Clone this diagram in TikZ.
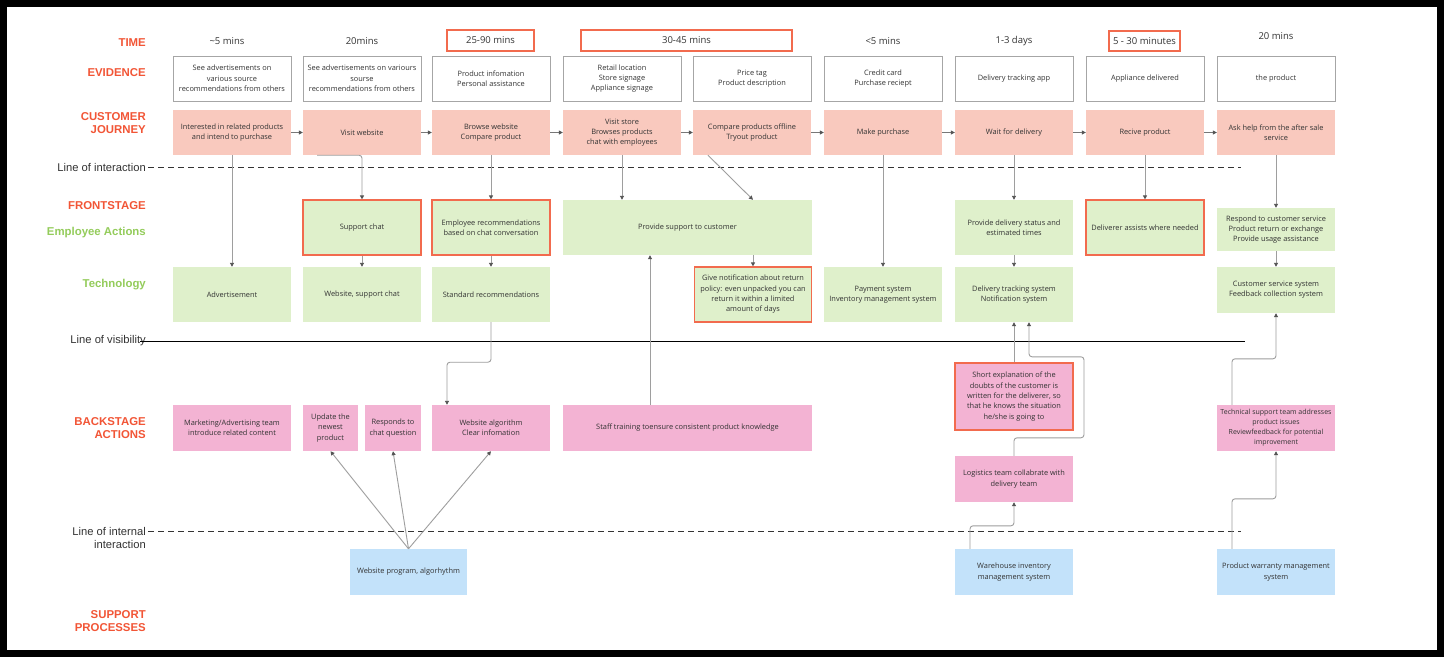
\documentclass[tikz,border=0pt]{standalone}
\usepackage{fontspec}
\setmainfont{Open Sans}
\newfontfamily\labfont{Liberation Sans}
\usetikzlibrary{arrows.meta,calc}
\definecolor{txt}{HTML}{333333}
\definecolor{evb}{HTML}{A6A6A6}
\definecolor{jfill}{HTML}{F9C9BE}
\definecolor{gfill}{HTML}{DFF0CB}
\definecolor{pfill}{HTML}{F3B3D3}
\definecolor{bfill}{HTML}{C3E2FA}
\definecolor{redc}{HTML}{F26B4E}
\definecolor{labred}{HTML}{F25536}
\definecolor{labgreen}{HTML}{94CC5B}
\definecolor{lineg}{HTML}{9E9E9E}
\definecolor{tipc}{HTML}{555555}
\tikzset{
  box/.style={minimum width=118pt, minimum height=45pt, inner sep=1pt, align=center,
    font=\fontsize{7.4}{10.3}\selectfont, text=txt},
  ev/.style={box, draw=evb, line width=1pt, fill=white},
  jr/.style={box, fill=jfill},
  gb/.style={box, fill=gfill, minimum height=55pt},
  pb/.style={box, fill=pfill, minimum height=46pt},
  bb/.style={box, fill=bfill, minimum height=46pt},
  redb/.style={draw=redc, line width=1.2pt},
  tm/.style={font=\fontsize{9.5}{11}\selectfont, text=txt, inner sep=1pt},
  lab/.style={font=\labfont\bfseries\fontsize{11.4}{13}\selectfont, text=labred, anchor=east, align=right, inner sep=0pt},
  glab/.style={lab, text=labgreen},
  lline/.style={font=\labfont\fontsize{11.2}{13}\selectfont, text=txt, anchor=east, align=right, inner sep=0pt},
  conn/.style={draw=lineg, line width=0.9pt, rounded corners=3pt},
  arr/.style={conn, -{Triangle[length=4pt,width=4pt,color=tipc]}},
  jarr/.style={draw=tipc!80, line width=0.8pt, -{Triangle[length=4pt,width=4pt,color=tipc]}},
  sepdash/.style={draw=txt, line width=1pt, dash pattern=on 6pt off 4pt},
  sepsolid/.style={draw=black, line width=1pt}
}
\begin{document}
\begin{tikzpicture}[x=1pt,y=-1pt]
\useasboundingbox (0,0) rectangle (1444,657);
\fill[black] (0,0) rectangle (1444,657);
\fill[white] (7,7) rectangle (1437,650);

% left labels
\node[lab] (lt) at (146,43) {TIME};
\node[lab] (le) at (146,73) {EVIDENCE};
\node[lab] (lc) at (146,123.5) {CUSTOMER\\JOURNEY};
\node[lab] (lf) at (146,206) {FRONTSTAGE};
\node[glab] (lea) at (146,233) {Employee Actions};
\node[glab] (ltech) at (146,285) {Technology};
\node[lab] (lb) at (146,428) {BACKSTAGE\\ACTIONS};
\node[lab] (ls) at (146,621.5) {SUPPORT\\PROCESSES};

% separator lines
\node[lline] (li) at (146,167) {Line of interaction};
\node[lline] (lv) at (146,341) {Line of visibility};
\node[lline] (lii) at (146,537.5) {Line of internal\\interaction};
\draw[sepdash] (148,167) -- (1241,167);
\draw[sepsolid] (140,341) -- (1245,341);
\draw[sepdash] (148,531) -- (1241,531);

% time row
\node[tm] (t1) at (227,41) {\textasciitilde5 mins};
\node[tm] (t2) at (362,41) {20mins};
\node[tm, redb, minimum width=87pt, minimum height=21pt] (t3) at (490.5,40.5) {25-90 mins};
\node[tm, redb, minimum width=211pt, minimum height=21pt] (t4) at (686.5,40.5) {30-45 mins};
\node[tm] (t5) at (883,41) {<5 mins};
\node[tm] (t6) at (1014,41) {1-3 days};
\node[tm, redb, minimum width=71pt, minimum height=20pt, inner sep=0pt] (t7) at (1144.5,41) {5 - 30 minutes};
\node[tm] (t8) at (1276,36) {20 mins};

% evidence row
\node[ev] (e1) at (232,78.5) {See advertisements on\\various source\\recommendations from others};
\node[ev] (e2) at (362,78.5) {See advertisements on variours\\sourse\\recommendations from others};
\node[ev] (e3) at (491,78.5) {Product infomation\\Personal assistance};
\node[ev] (e4) at (622,78.5) {Retail location\\Store signage\\Appliance signage};
\node[ev] (e5) at (752,78.5) {Price tag\\Product description};
\node[ev] (e6) at (883,78.5) {Credit card\\Purchase reciept};
\node[ev] (e7) at (1014,78.5) {Delivery tracking app};
\node[ev] (e8) at (1145,78.5) {Appliance delivered};
\node[ev] (e9) at (1276,78.5) {the product};

% customer journey
\node[jr] (j1) at (232,132.5) {Interested in related products\\and intend to purchase};
\node[jr] (j2) at (362,132.5) {Visit website};
\node[jr] (j3) at (491,132.5) {Browse website\\Compare product};
\node[jr] (j4) at (622,132.5) {Visit store\\Browses products\\chat with employees};
\node[jr] (j5) at (752,132.5) {Compare products offline\\Tryout product};
\node[jr] (j6) at (883,132.5) {Make purchase};
\node[jr] (j7) at (1014,132.5) {Wait for delivery};
\node[jr] (j8) at (1145,132.5) {Recive product};
\node[jr] (j9) at (1276,132.5) {Ask help from the after sale\\service};

% frontstage
\node[gb, redb] (f2) at (362,227.5) {Support chat};
\node[gb, redb] (f3) at (491,227.5) {Employee recommendations\\based on chat conversation};
\node[gb, minimum width=249pt] (f4) at (687.5,227.5) {Provide support to customer};
\node[gb] (f7) at (1014,227.5) {Provide delivery status and\\estimated times};
\node[gb, redb] (f8) at (1145,227.5) {Deliverer assists where needed};
\node[gb, minimum height=43pt] (f9) at (1276,229.5) {Respond to customer service\\Product return or exchange\\Provide usage assistance};

% technology
\node[gb] (k1) at (232,294.5) {Advertisement};
\node[gb] (k2) at (362,294.5) {Website, support chat};
\node[gb] (k3) at (491,294.5) {Standard recommendations};
\node[gb, redb, minimum width=117pt] (k5) at (753,294.5) {Give notification about return\\policy: even unpacked you can\\return it within a limited\\amount of days};
\node[gb] (k6) at (883,294.5) {Payment system\\Inventory management system};
\node[gb] (k7) at (1014,294.5) {Delivery tracking system\\Notification system};
\node[gb, minimum height=46pt] (k9) at (1276,290) {Customer service system\\Feedback collection system};

% backstage
\node[pb] (b1) at (232,428) {Marketing/Advertising team\\introduce related content};
\node[pb, minimum width=55pt] (b2a) at (330.5,428) {Update the\\newest\\product};
\node[pb, minimum width=56pt] (b2b) at (393,428) {Responds to\\chat question};
\node[pb] (b3) at (491,428) {Website algorithm\\Clear infomation};
\node[pb, minimum width=249pt] (b4) at (687.5,428) {Staff training toensure consistent product knowledge};
\node[pb, redb, minimum height=67pt] (b7a) at (1014,396.5) {Short explanation of the\\doubts of the customer is\\written for the deliverer, so\\that he knows the situation\\he/she is going to};
\node[pb] (b7b) at (1014,479) {Logistics team collabrate with\\delivery team};
\node[pb, inner sep=0pt, font=\fontsize{7}{10}\selectfont] (b9) at (1276,428) {Technical support team addresses\\product issues\\Reviewfeedback for potential\\improvement};

% support processes
\node[bb, minimum width=117pt] (s2) at (408.5,572) {Website program, algorhythm};
\node[bb] (s7) at (1014,572) {Warehouse inventory\\management system};
\node[bb] (s9) at (1276,572) {Product warranty management\\system};

% journey flow
\foreach \a/\b in {j1/j2,j2/j3,j3/j4,j4/j5,j5/j6,j6/j7,j7/j8,j8/j9}
  \draw[jarr] (\a) -- (\b);

% connectors
\draw[arr] (j1.south) -- (k1.north);
\draw[arr] ([xshift=-45pt]j2.south) -| (f2.north);
\draw[arr] (f2.south) -- (k2.north);
\draw[arr] (j3.south) -- (f3.north);
\draw[arr] (f3.south) -- (k3.north);
\draw[arr] (k3.south) -- ++(0,40) -| ([xshift=-44pt]b3.north);
\draw[arr] (j4.south) -- (j4.south |- f4.north);
\draw[arr] ([xshift=-44pt]j5.south) -- (k5.north |- f4.north);
\draw[arr] (k5.north |- f4.south) -- (k5.north);
\draw[arr] ([xshift=-37.5pt]b4.north) -- ([xshift=-37.5pt]f4.south);
\draw[arr] (j6.south) -- (k6.north);
\draw[arr] (j7.south) -- (f7.north);
\draw[arr] (f7.south) -- (k7.north);
\draw[arr] (j8.south) -- (f8.north);
\draw[arr] (j9.south) -- (f9.north);
\draw[arr] (f9.south) -- (k9.north);
\draw[arr] (b7a.north) -- (k7.south);
\draw[arr] (b7b.north) -- ++(0,-18) -- ++(70,0) -- ++(0,-81) -- ++(-55,0) -- ([xshift=15pt]k7.south);
\draw[arr] ([xshift=-44pt]s7.north) -- ++(0,-23) -| (b7b.south);
\draw[arr] ([xshift=-44pt]s9.north) -- ++(0,-50) -| (b9.south);
\draw[arr] ([xshift=-44pt]b9.north) -- ++(0,-46) -| (k9.south);
\draw[arr, rounded corners=0pt] (s2.north) -- (b2a.south);
\draw[arr, rounded corners=0pt] (s2.north) -- (b2b.south);
\draw[arr, rounded corners=0pt] (s2.north) -- (b3.south);
\end{tikzpicture}
\end{document}
